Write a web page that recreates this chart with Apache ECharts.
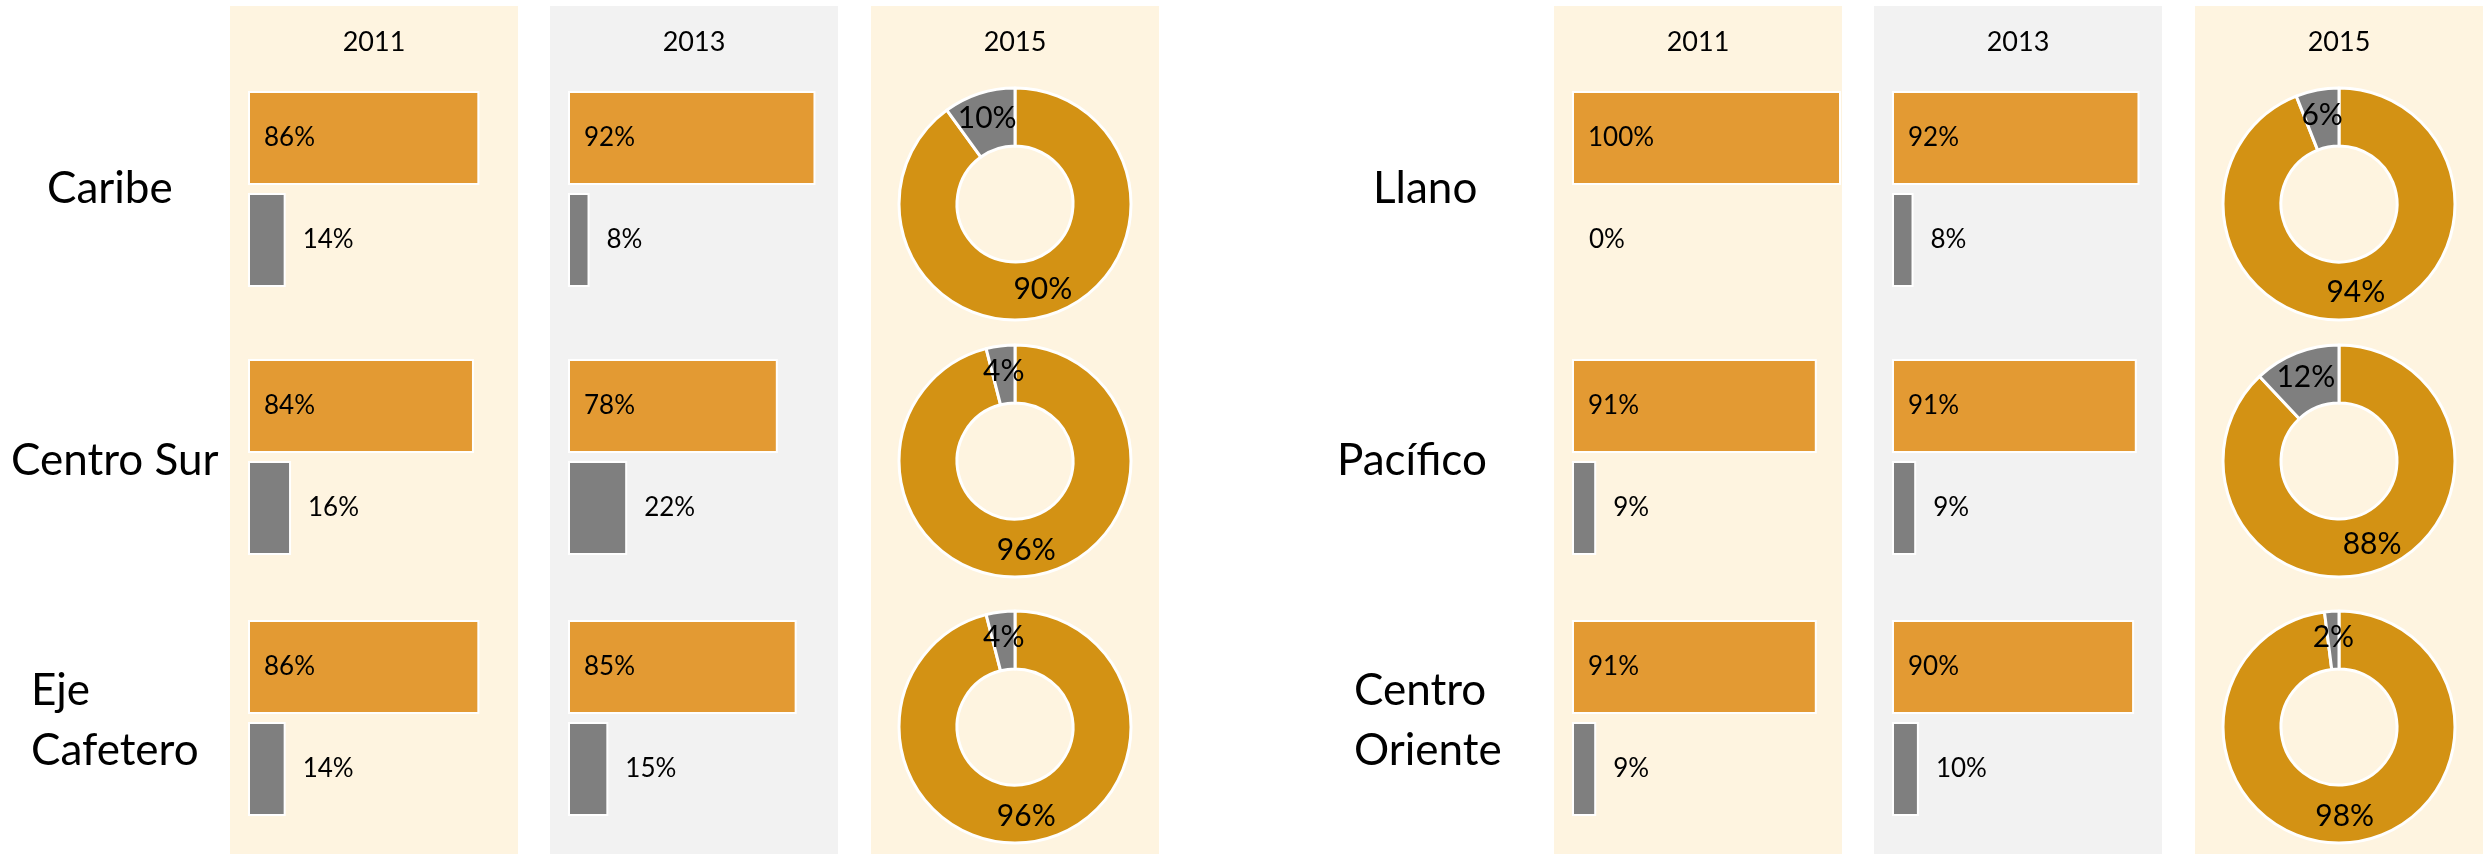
<!DOCTYPE html>
<html>
<head>
<meta charset="utf-8">
<script src="https://cdn.jsdelivr.net/npm/echarts@6/dist/echarts.min.js"></script>
<style>
  html, body { margin: 0; padding: 0; background: #ffffff; }
  #main { width: 2484px; height: 854px; }
</style>
</head>
<body>
<div id="main"></div>
<script>
// datos: primero las tres regiones de la izquierda, luego las tres de la derecha
var regiones = ['Caribe', 'Centro Sur', 'Eje\nCafetero', 'Llano', 'Pacífico', 'Centro\nOriente'];
var anios = ['2011', '2013', '2015'];
var si2011 = [86, 84, 86, 100, 91, 91];
var no2011 = [14, 16, 14, 0, 9, 9];
var si2013 = [92, 78, 85, 92, 91, 90];
var no2013 = [8, 22, 15, 8, 9, 10];
var si2015 = [90, 96, 96, 94, 88, 98];
var no2015 = [10, 4, 4, 6, 12, 2];

var siPorAnio = [si2011, si2013, si2015];
var noPorAnio = [no2011, no2013, no2015];

var naranja = '#E39A33';
var naranjaDona = '#D39214';
var gris = '#7F7F7F';
var fondos = ['#FEF4E0', '#F2F2F2', '#FEF4E0'];
var fuente = 'Lato, "Open Sans", sans-serif';

// posiciones
var panelX = [230, 550, 871, 1554, 1874, 2195];
var panelW = 288;
var filaTop = [87, 355, 616]; // top del grid de cada fila
var filaH = 204;
var donaY = [204, 461, 727];
var etiquetaX = [47, 11, 31, 1373, 1337, 1354];
var etiquetaY = [189, 461, 721, 189, 461, 721];

var myChart = echarts.init(document.getElementById('main'));

var grids = [], xAxes = [], yAxes = [], series = [], graphics = [];

for (var g = 0; g < 2; g++) {
  for (var c = 0; c < 3; c++) {
    var px = panelX[g * 3 + c];
    graphics.push({
      type: 'rect', silent: true, z: -10,
      shape: { x: px, y: 6, width: panelW, height: 848 },
      style: { fill: fondos[c] }
    });
    graphics.push({
      type: 'text', silent: true,
      style: {
        text: anios[c], x: px + panelW / 2, y: 42,
        textAlign: 'center', textVerticalAlign: 'middle',
        font: '27px ' + fuente, fill: '#000000'
      }
    });
    for (var r = 0; r < 3; r++) {
      var idx = g * 3 + r;
      var si = siPorAnio[c][idx];
      var no = noPorAnio[c][idx];
      if (c < 2) {
        var gi = grids.length;
        grids.push({ left: px + 18, top: filaTop[r], width: 269, height: filaH });
        xAxes.push({ gridIndex: gi, type: 'value', min: 0, max: 100, show: false });
        yAxes.push({ gridIndex: gi, type: 'category', data: ['Sí', 'No'], inverse: true, show: false });
        series.push({
          type: 'bar', xAxisIndex: gi, yAxisIndex: gi,
          barWidth: 94,
          itemStyle: { borderColor: '#ffffff', borderWidth: 2 },
          label: {
            show: true, formatter: '{c}%', color: '#000000',
            fontFamily: fuente, fontSize: 26
          },
          data: [
            { value: si, itemStyle: { color: naranja }, label: { position: 'insideLeft', distance: 16 } },
            { value: no, itemStyle: { color: gris, borderWidth: no ? 2 : 0 }, label: { position: 'right', distance: 17 } }
          ]
        });
      } else {
        series.push({
          type: 'pie',
          center: [px + panelW / 2, donaY[r]],
          radius: [58, 116],
          startAngle: 90,
          clockwise: true,
          avoidLabelOverlap: false,
          itemStyle: { borderColor: '#ffffff', borderWidth: 3 },
          label: {
            show: true, position: 'inside', formatter: '{c}%',
            color: '#000000', fontFamily: fuente, fontSize: 30
          },
          labelLine: { show: false },
          emphasis: { disabled: true },
          data: [
            { name: 'Sí', value: si, itemStyle: { color: naranjaDona } },
            { name: 'No', value: no, itemStyle: { color: gris } }
          ]
        });
      }
    }
  }
}

for (var k = 0; k < regiones.length; k++) {
  graphics.push({
    type: 'text', silent: true,
    style: {
      text: regiones[k], x: etiquetaX[k], y: etiquetaY[k],
      textAlign: 'left', textVerticalAlign: 'middle',
      font: '44px ' + fuente, fill: '#000000', lineHeight: 60
    }
  });
}

var option = {
  backgroundColor: '#ffffff',
  animation: false,
  grid: grids,
  xAxis: xAxes,
  yAxis: yAxes,
  series: series,
  graphic: graphics
};

myChart.setOption(option);
</script>
</body>
</html>
